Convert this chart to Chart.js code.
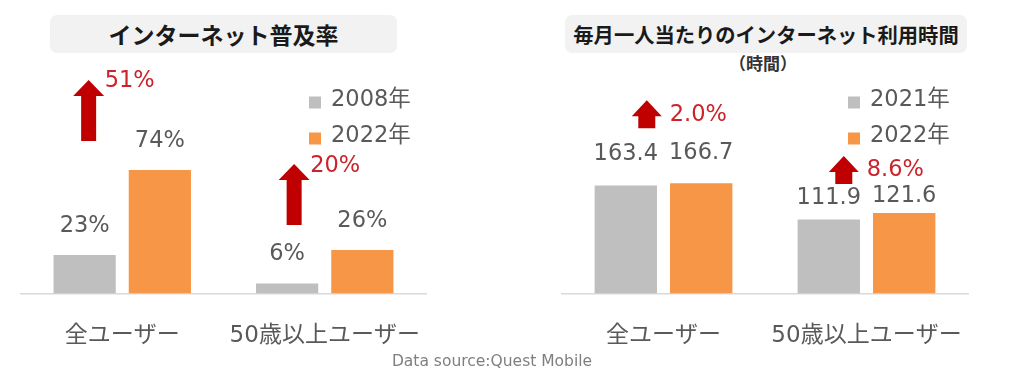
<!DOCTYPE html>
<html><head><meta charset="utf-8">
<script src="https://cdn.jsdelivr.net/npm/chart.js@4.4.0/dist/chart.umd.min.js"></script>
<style>
html,body{margin:0;padding:0;background:#fff;width:1017px;height:373px;overflow:hidden;font-family:"Noto Sans CJK JP",sans-serif;}
.box{position:absolute;}
.title{position:absolute;background:#f2f2f2;border-radius:7px;text-align:center;font-weight:bold;color:#1a1a1a;white-space:nowrap;}
</style></head><body>
<div class="title" style="left:50px;top:15px;width:347px;height:38px;line-height:38px;font-size:23px;">インターネット普及率</div>
<div class="title" style="left:565px;top:15px;width:402px;height:38px;line-height:38px;font-size:20.3px;">毎月一人当たりのインターネット利用時間</div>
<div style="position:absolute;left:663px;width:200px;top:52px;line-height:22px;text-align:center;font-size:17px;font-weight:bold;color:#333;">（時間）</div>
<div id="w1" class="box" style="left:0;top:0;width:510px;height:373px"><canvas id="c1"></canvas></div>
<div id="w2" class="box" style="left:510px;top:0;width:507px;height:373px"><canvas id="c2"></canvas></div>
<div style="position:absolute;left:342px;width:300px;top:351px;line-height:20px;text-align:center;font-size:15.5px;color:#7f7f7f;font-family:'DejaVu Sans',sans-serif;">Data source:Quest Mobile</div>
<script>
// ---- data ----
const categories = ['全ユーザー', '50歳以上ユーザー'];
const rateYears = ['2008年', '2022年'];
const rate2008 = [23, 6];
const rate2022 = [74, 26];
const rateGrowth = ['51%', '20%'];
const timeYears = ['2021年', '2022年'];
const time2021 = [163.4, 111.9];
const time2022 = [166.7, 121.6];
const timeGrowth = ['2.0%', '8.6%'];

// ---- styles ----
const GRAY = '#bfbfbf', ORANGE = '#f79646', ARROW = '#c00000', RED_TEXT = '#cc2229', LABEL = '#595959';
const FONT = '"DejaVu Sans", "Noto Sans CJK JP", sans-serif';

function drawArrow(ctx, cx, tipY, bottomY, headW, shaftW, headH) {
  ctx.beginPath();
  ctx.moveTo(cx, tipY);
  ctx.lineTo(cx + headW / 2, tipY + headH);
  ctx.lineTo(cx + shaftW / 2, tipY + headH);
  ctx.lineTo(cx + shaftW / 2, bottomY);
  ctx.lineTo(cx - shaftW / 2, bottomY);
  ctx.lineTo(cx - shaftW / 2, tipY + headH);
  ctx.lineTo(cx - headW / 2, tipY + headH);
  ctx.closePath();
  ctx.fillStyle = ARROW;
  ctx.fill();
}

const overlay = {
  id: 'overlay',
  afterDatasetsDraw(chart, args, o) {
    const ctx = chart.ctx;
    ctx.save();
    ctx.font = '22.5px ' + FONT;
    ctx.textBaseline = 'middle';
    // value labels
    chart.data.datasets.forEach((ds, di) => {
      const meta = chart.getDatasetMeta(di);
      meta.data.forEach((bar, i) => {
        ctx.fillStyle = LABEL;
        ctx.textAlign = 'center';
        ctx.fillText(o.fmt(ds.data[i]), bar.x, bar.y - o.labelOffsets[di][i]);
      });
    });
    // growth arrows
    const g = chart.getDatasetMeta(0).data, r = chart.getDatasetMeta(1).data;
    const a = o.arrow;
    o.growth.forEach((txt, i) => {
      const cx = g[i].x + a.dx[i];
      const bottom = r[i].y - a.bottomAbove[i];
      const tip = bottom - a.height;
      drawArrow(ctx, cx, tip, bottom, a.headW, a.shaftW, a.headH);
      ctx.fillStyle = RED_TEXT;
      ctx.textAlign = 'left';
      ctx.fillText(txt, cx + a.textDx, tip + a.textDy[i]);
    });
    // legend
    const lx = chart.chartArea.right + o.legendDx;
    chart.data.datasets.forEach((ds, di) => {
      const cy = o.legendY[di];
      ctx.fillStyle = ds.backgroundColor;
      ctx.fillRect(lx, cy - 4, 12, 12);
      ctx.fillStyle = LABEL;
      ctx.textAlign = 'left';
      ctx.fillText(ds.label, lx + 22, cy);
    });
    ctx.restore();
  }
};

function makeChart(id, labels, d0, d1, names, max, padRight, padLeft, ov) {
  return new Chart(document.getElementById(id), {
    type: 'bar',
    data: {
      labels: labels,
      datasets: [
        { label: names[0], data: d0, backgroundColor: GRAY },
        { label: names[1], data: d1, backgroundColor: ORANGE }
      ]
    },
    options: {
      responsive: true,
      maintainAspectRatio: false,
      animation: false,
      categoryPercentage: 0.743,
      barPercentage: 0.827,
      layout: { padding: { left: padLeft, right: padRight, top: 10, bottom: 18 } },
      plugins: { legend: { display: false }, tooltip: { enabled: false }, overlay: ov },
      scales: {
        x: {
          grid: { display: false, drawTicks: true, tickLength: 24 },
          border: { color: '#d9d9d9', width: 1.5 },
          ticks: { color: LABEL, font: { family: FONT, size: 23 }, padding: 5 }
        },
        y: { display: false, min: 0, max: max }
      }
    },
    plugins: [overlay]
  });
}

makeChart('c1', categories, rate2008, rate2022, rateYears, 170, 84, 21, {
  fmt: v => v + '%',
  labelOffsets: [[29, 29], [29, 29]],
  growth: rateGrowth,
  arrow: { dx: [4, 7], bottomAbove: [29, 25], height: 61, headW: 31, shaftW: 15, headH: 16, textDx: 16, textDy: [1, 2] },
  legendDx: -117,
  legendY: [100.5, 136.5]
});

makeChart('c2', categories, time2021, time2022, timeYears, 429, 49, 52, {
  fmt: v => v.toFixed(1),
  labelOffsets: [[31, 21], [30, 17]],
  growth: timeGrowth,
  arrow: { dx: [21, 15], bottomAbove: [55, 29], height: 28, headW: 30, shaftW: 17, headH: 16, textDx: 23, textDy: [15, 14] },
  legendDx: -120,
  legendY: [100.5, 136.5]
});
</script>
</body></html>
